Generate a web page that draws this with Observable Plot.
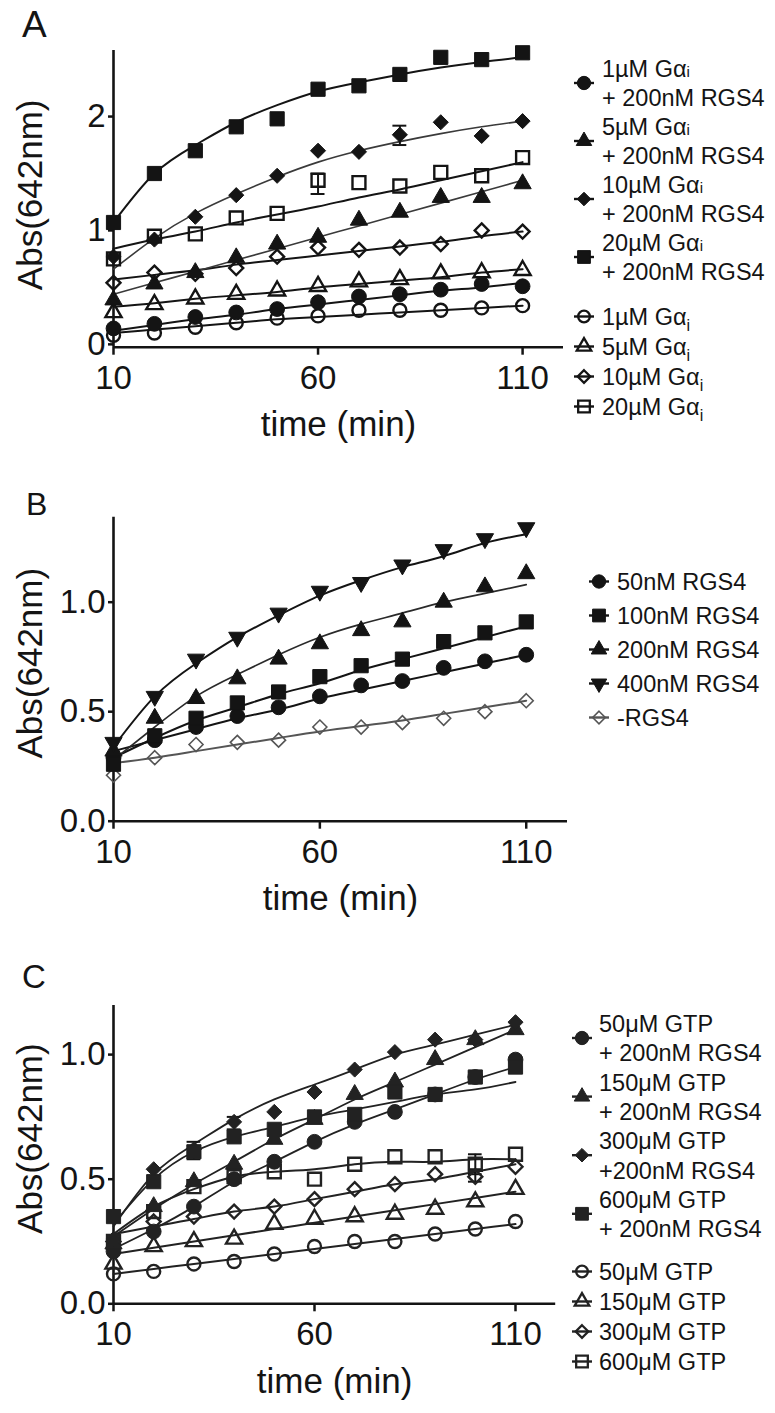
<!DOCTYPE html>
<html><head><meta charset="utf-8">
<script src="https://cdn.jsdelivr.net/npm/d3@7"></script>
<script src="https://cdn.jsdelivr.net/npm/@observablehq/plot@0.6"></script>
<style>
body{margin:0;background:#fff;}
#page{position:relative;width:775px;height:1413px;overflow:hidden;background:#fff;font-family:"Liberation Sans",Arial,sans-serif;}
.panel{position:absolute;left:0;}
</style></head>
<body><div id="page"></div>
<script>
// ---------- shared ----------
const time = [10,20,30,40,50,60,70,80,90,100,110];
const xTicks = [10,60,110];

// ---------- Panel A ----------
const aLegendRGS = [["1µM Gα","i","+ 200nM RGS4"],["5µM Gα","i","+ 200nM RGS4"],["10µM Gα","i","+ 200nM RGS4"],["20µM Gα","i","+ 200nM RGS4"]];
const aLegendCtl = [["1µM Gα","i"],["5µM Gα","i"],["10µM Gα","i"],["20µM Gα","i"]];
const aYTicks = [0,1,2];
const a1uM_RGS4  = [0.14,0.18,0.24,0.28,0.31,0.37,0.42,0.44,0.48,0.53,0.51];
const a5uM_RGS4  = [0.39,0.53,0.63,0.76,0.88,0.94,1.09,1.16,1.29,1.29,1.41];
const a10uM_RGS4 = [0.77,0.92,1.12,1.31,1.48,1.70,1.69,1.84,1.95,1.83,1.96];
const a20uM_RGS4 = [1.07,1.50,1.70,1.91,1.98,2.24,2.27,2.37,2.52,2.50,2.56];
const a1uM  = [0.08,0.10,0.15,0.19,0.23,0.25,0.30,0.30,0.30,0.32,0.34];
const a5uM  = [0.28,0.35,0.40,0.44,0.47,0.51,0.55,0.57,0.62,0.63,0.65];
const a10uM = [0.54,0.63,0.62,0.67,0.77,0.85,0.83,0.85,0.88,1.00,0.99];
const a20uM = [0.75,0.95,0.97,1.11,1.15,1.44,1.42,1.39,1.51,1.48,1.64];
const a1uM_RGS4_fit  = [0.12,0.17,0.22,0.26,0.31,0.35,0.39,0.43,0.47,0.50,0.54];
const a5uM_RGS4_fit  = [0.44,0.54,0.64,0.74,0.84,0.94,1.04,1.14,1.24,1.34,1.44];
const a10uM_RGS4_fit = [0.66,0.93,1.15,1.32,1.47,1.60,1.70,1.78,1.85,1.91,1.96];
const a20uM_RGS4_fit = [1.07,1.50,1.75,1.95,2.10,2.22,2.30,2.37,2.43,2.48,2.52];
const a1uM_fit  = [0.10,0.13,0.16,0.19,0.22,0.24,0.26,0.28,0.30,0.32,0.34];
const a5uM_fit  = [0.33,0.36,0.40,0.43,0.46,0.50,0.53,0.56,0.59,0.63,0.66];
const a10uM_fit = [0.57,0.61,0.65,0.70,0.74,0.78,0.82,0.86,0.90,0.95,0.99];
const a20uM_fit = [0.84,0.92,0.99,1.07,1.14,1.21,1.29,1.36,1.44,1.52,1.60];
const aErrT  = [60, 80];
const aErrLo = [1.32, 1.75];
const aErrHi = [1.50, 1.92];

// ---------- Panel B ----------
const bLegend = ["50nM RGS4","100nM RGS4","200nM RGS4","400nM RGS4","-RGS4"];
const bYTicks = [0,0.5,1.0];
const b50   = [0.29,0.37,0.43,0.48,0.52,0.57,0.62,0.64,0.70,0.73,0.76];
const b100  = [0.26,0.39,0.47,0.54,0.59,0.66,0.71,0.74,0.82,0.86,0.91];
const b200  = [0.32,0.47,0.56,0.65,0.74,0.81,0.87,0.91,1.00,1.07,1.13];
const b400  = [0.36,0.57,0.74,0.84,0.95,1.05,1.09,1.17,1.24,1.29,1.34];
const bNone = [0.21,0.29,0.35,0.36,0.37,0.43,0.43,0.45,0.47,0.50,0.55];
const b50_fit   = [0.32,0.37,0.42,0.47,0.51,0.56,0.60,0.64,0.68,0.72,0.76];
const b100_fit  = [0.29,0.38,0.46,0.52,0.58,0.63,0.69,0.74,0.79,0.84,0.89];
const b200_fit  = [0.28,0.43,0.57,0.67,0.76,0.84,0.90,0.95,1.00,1.04,1.08];
const b400_fit  = [0.34,0.57,0.72,0.84,0.94,1.03,1.10,1.16,1.21,1.27,1.31];
const bNone_fit = [0.265,0.29,0.32,0.35,0.38,0.41,0.435,0.46,0.49,0.52,0.55];

// ---------- Panel C ----------
const cLegendRGS = [["50μM GTP","+ 200nM RGS4"],["150μM GTP","+ 200nM RGS4"],["300μM GTP","+200nM RGS4"],["600μM GTP","+ 200nM RGS4"]];
const cLegendCtl = ["50μM GTP","150μM GTP","300μM GTP","600μM GTP"];
const cYTicks = [0,0.5,1.0];
const c50_RGS4  = [0.21,0.29,0.39,0.50,0.57,0.65,0.73,0.77,0.84,0.91,0.98];
const c150_RGS4 = [0.24,0.39,0.49,0.56,0.66,0.74,0.84,0.89,0.98,1.06,1.10];
const c300_RGS4 = [0.26,0.54,0.62,0.73,0.77,0.85,0.94,1.01,1.06,1.06,1.13];
const c600_RGS4 = [0.35,0.49,0.61,0.67,0.70,0.75,0.76,0.85,0.84,0.91,0.95];
const c50  = [0.12,0.13,0.16,0.17,0.20,0.23,0.25,0.25,0.28,0.30,0.33];
const c150 = [0.16,0.23,0.25,0.26,0.32,0.34,0.35,0.36,0.38,0.41,0.46];
const c300 = [0.25,0.33,0.35,0.37,0.39,0.42,0.46,0.48,0.52,0.51,0.55];
const c600 = [0.25,0.37,0.47,0.51,0.53,0.50,0.56,0.59,0.59,0.56,0.60];
const c50_RGS4_fit  = [0.22,0.30,0.39,0.49,0.57,0.65,0.72,0.78,0.84,0.90,0.95];
const c150_RGS4_fit = [0.27,0.38,0.48,0.57,0.66,0.74,0.82,0.89,0.96,1.03,1.10];
const c300_RGS4_fit = [0.31,0.52,0.64,0.74,0.82,0.88,0.94,1.00,1.04,1.08,1.12];
const c600_RGS4_fit = [0.32,0.50,0.61,0.67,0.71,0.75,0.78,0.81,0.84,0.86,0.89];
const c50_fit  = [0.12,0.14,0.16,0.18,0.20,0.22,0.24,0.26,0.28,0.30,0.32];
const c150_fit = [0.20,0.225,0.25,0.275,0.30,0.325,0.35,0.375,0.40,0.425,0.45];
const c300_fit = [0.28,0.31,0.34,0.37,0.39,0.42,0.45,0.48,0.50,0.53,0.56];
const c600_fit = [0.28,0.39,0.46,0.51,0.53,0.54,0.56,0.57,0.57,0.58,0.58];
const cErrT  = [30, 40, 100, 100, 100];
const cErrLo = [0.58, 0.70, 0.52, 0.49, 0.89];
const cErrHi = [0.65, 0.75, 0.60, 0.54, 0.93];

// ---------- drawing ----------
const FONT = "Liberation Sans, Arial, sans-serif";
const INK = "#141414";
const symR = {circle:{f:7.4,o:6.5}, square:{f:8.0,o:7.3}, triangle:{f:6.4,o:6.0}, diamond2:{f:6.8,o:6.3}};

function seriesMarks(s){
  const rows = time.map((t,i)=>({t, v:s.obs[i]}));
  const fit = time.map((t,i)=>({t, v:s.fit[i]}));
  const col = s.color || INK;
  const r = symR[s.symbol][s.filled ? "f" : "o"] * (s.scale||1);
  return {
    line: Plot.line(fit, {x:"t", y:"v", curve:"natural", stroke: s.lineColor || col, strokeWidth: s.lw || 2}),
    dot: Plot.dot(rows, {x:"t", y:"v", symbol: s.symbol, r, rotate: s.rotate || 0,
      fill: s.filled ? col : "none", stroke: col, strokeWidth: s.filled ? 1 : (s.sw || 2.4)})
  };
}

function errMarks(T, LO, HI){
  const e = T.map((t,i)=>({t, lo:LO[i], hi:HI[i]}));
  return [
    Plot.ruleX(e, {x:"t", y1:"lo", y2:"hi", stroke: INK, strokeWidth: 2}),
    Plot.ruleY(e, {y:"hi", x1: d=>d.t-1.7, x2: d=>d.t+1.7, stroke: INK, strokeWidth: 2}),
    Plot.ruleY(e, {y:"lo", x1: d=>d.t-1.7, x2: d=>d.t+1.7, stroke: INK, strokeWidth: 2})
  ];
}

function panel(o){
  const ms = o.series.map(seriesMarks);
  const fig = Plot.plot({
    width: 775, height: o.height,
    marginLeft: 113, marginRight: o.marginRight, marginTop: o.marginTop, marginBottom: o.marginBottom,
    style: {fontFamily: FONT, fontSize: "33px", color: INK, background: "transparent", overflow: "visible"},
    x: {domain: [10, 120]},
    y: {domain: o.yDomain},
    marks: [
      Plot.axisX({ticks: xTicks, tickSize: 8, tickPadding: 10, label: null, strokeWidth: 2.5, fontSize: 33, tickFormat: d=>String(d)}),
      Plot.axisY({ticks: o.yTicks, tickSize: 5, tickPadding: 3, label: null, strokeWidth: 2.5, fontSize: 33, tickFormat: o.tickFormat}),
      Plot.ruleY([o.yDomain[0]], {stroke: INK, strokeWidth: 2.6}),
      Plot.ruleX([10], {stroke: INK, strokeWidth: 2.6}),
      ...ms.map(m=>m.line),
      ...(o.err ? errMarks(...o.err) : []),
      ...ms.map(m=>m.dot),
      Plot.text(["time (min)"], {frameAnchor: "bottom", lineAnchor: "bottom", textAnchor: "middle", dy: 89, fontSize: 35, fill: INK}),
      Plot.text(["Abs(642nm)"], {frameAnchor: "left", lineAnchor: "bottom", textAnchor: "middle", rotate: -90, dx: -72, dy: o.labelDy, fontSize: 35, fill: INK})
    ]
  });
  fig.classList.add("panel");
  fig.style.top = o.top + "px";
  document.getElementById("page").appendChild(fig);
}

panel({
  top: 0, height: 460, marginTop: 50, marginBottom: 113.3, marginRight: 212,
  yDomain: [-0.025, 2.58], yTicks: aYTicks, tickFormat: d=>String(d), labelDy: -4,
  series: [
    {obs:a1uM, fit:a1uM_fit, symbol:"circle", filled:false},
    {obs:a5uM, fit:a5uM_fit, symbol:"triangle", filled:false},
    {obs:a10uM, fit:a10uM_fit, symbol:"diamond2", filled:false},
    {obs:a20uM, fit:a20uM_fit, symbol:"square", filled:false},
    {obs:a1uM_RGS4, fit:a1uM_RGS4_fit, symbol:"circle", filled:true},
    {obs:a5uM_RGS4, fit:a5uM_RGS4_fit, symbol:"triangle", filled:true, lineColor:"#3a3a3a", lw:1.6},
    {obs:a10uM_RGS4, fit:a10uM_RGS4_fit, symbol:"diamond2", filled:true, lineColor:"#3a3a3a", lw:1.6},
    {obs:a20uM_RGS4, fit:a20uM_RGS4_fit, symbol:"square", filled:true}
  ],
  err: [aErrT, aErrLo, aErrHi]
});

panel({
  top: 470, height: 450, marginTop: 46.7, marginBottom: 99.3, marginRight: 208,
  yDomain: [0, 1.388], yTicks: bYTicks, tickFormat: d3.format(".1f"), labelDy: -6,
  series: [
    {obs:bNone, fit:bNone_fit, symbol:"diamond2", filled:false, color:"#555", sw:1.6},
    {obs:b50, fit:b50_fit, symbol:"circle", filled:true},
    {obs:b100, fit:b100_fit, symbol:"square", filled:true},
    {obs:b200, fit:b200_fit, symbol:"triangle", filled:true, lineColor:"#2a2a2a", lw:1.7},
    {obs:b400, fit:b400_fit, symbol:"triangle", filled:true, rotate:180}
  ]
});

panel({
  top: 910, height: 503, marginTop: 95, marginBottom: 109.7, marginRight: 219.8,
  yDomain: [0, 1.197], yTicks: cYTicks, tickFormat: d3.format(".1f"), labelDy: -16,
  series: [
    {obs:c50, fit:c50_fit, symbol:"circle", filled:false, color:"#222"},
    {obs:c150, fit:c150_fit, symbol:"triangle", filled:false, color:"#222"},
    {obs:c300, fit:c300_fit, symbol:"diamond2", filled:false, color:"#222"},
    {obs:c600, fit:c600_fit, symbol:"square", filled:false, color:"#222"},
    {obs:c50_RGS4, fit:c50_RGS4_fit, symbol:"circle", filled:true, color:"#222", lw:1.8},
    {obs:c150_RGS4, fit:c150_RGS4_fit, symbol:"triangle", filled:true, color:"#222", lw:1.8},
    {obs:c300_RGS4, fit:c300_RGS4_fit, symbol:"diamond2", filled:true, color:"#222", lw:1.8},
    {obs:c600_RGS4, fit:c600_RGS4_fit, symbol:"square", filled:true, color:"#222", lw:1.8}
  ],
  err: [cErrT, cErrLo, cErrHi]
});

// ---------- overlay: panel letters and legends ----------
const ov = d3.select("#page").append("svg")
  .attr("width", 775).attr("height", 1413)
  .style("position","absolute").style("left",0).style("top",0)
  .style("font-family", FONT).style("pointer-events","none");

ov.append("text").attr("x",22).attr("y",37).attr("font-size",37).attr("fill",INK).text("A");
ov.append("text").attr("x",26).attr("y",515).attr("font-size",32).attr("fill",INK).text("B");
ov.append("text").attr("x",22).attr("y",988).attr("font-size",33).attr("fill",INK).text("C");

const d3sym = {circle:d3.symbolCircle, square:d3.symbolSquare, triangle:d3.symbolTriangle, diamond2:d3.symbolDiamond2};
function legendSymbol(x, y, symbol, filled, opts={}){
  const col = opts.color || INK;
  const r = symR[symbol][filled ? "f" : "o"] * 0.9;
  const g = ov.append("g").attr("transform", `translate(${x},${y})`);
  g.append("line").attr("x1",-10).attr("x2",10).attr("stroke",col).attr("stroke-width",2.4);
  g.append("path").attr("d", d3.symbol(d3sym[symbol], Math.PI*r*r)())
    .attr("transform", opts.rotate ? `rotate(${opts.rotate})` : null)
    .attr("fill", filled ? col : "none").attr("stroke", col).attr("stroke-width", filled ? 1 : (opts.sw||2.3));
}
function legendText(x, y, parts, sub){
  const t = ov.append("text").attr("x",x).attr("y",y).attr("font-size",23.5).attr("fill",INK);
  t.append("tspan").text(parts[0]);
  if (parts.length > 1) {
    if (sub) t.append("tspan").attr("font-size",16).attr("dy",6).text(parts[1]);
    else t.append("tspan").attr("font-size",15).text(parts[1]);
  }
}

// Legend A
const aSyms = ["circle","triangle","diamond2","square"];
aLegendRGS.forEach((p,i)=>{
  const b = 77 + 58*i;
  legendText(602, b, [p[0], p[1]], false);
  legendText(602, b+29, [p[2]]);
  legendSymbol(584, b+6, aSyms[i], true);
});
aLegendCtl.forEach((p,i)=>{
  const b = 325 + 30*i;
  legendText(602, b, p, true);
  legendSymbol(584, b-8.5, aSyms[i], false);
});

// Legend B
const bSyms = [["circle",true,{}],["square",true,{}],["triangle",true,{}],["triangle",true,{rotate:180}],["diamond2",false,{color:"#555",sw:1.6}]];
bLegend.forEach((s,i)=>{
  const b = 590 + 34*i;
  legendText(617, b, [s]);
  legendSymbol(599, b-8.5, bSyms[i][0], bSyms[i][1], bSyms[i][2]);
});

// Legend C
cLegendRGS.forEach((p,i)=>{
  const b = 1032 + 58.6*i;
  legendText(599, b, [p[0]]);
  legendText(599, b+29.3, [p[1]]);
  legendSymbol(582, b+6, aSyms[i], true, {color:"#222"});
});
cLegendCtl.forEach((s,i)=>{
  const b = 1280 + 30*i;
  legendText(599, b, [s]);
  legendSymbol(582, b-8.5, aSyms[i], false, {color:"#222"});
});
</script>
</body></html>
